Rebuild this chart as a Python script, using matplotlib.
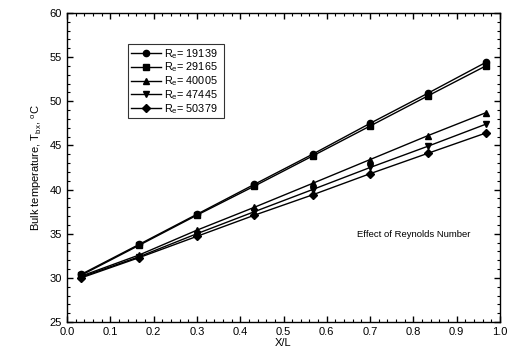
import matplotlib
matplotlib.use("Agg")
import matplotlib.pyplot as plt
from matplotlib.ticker import MultipleLocator

plt.rcParams['font.family'] = ['Liberation Sans', 'DejaVu Sans']
plt.rcParams['mathtext.fontset'] = 'custom'
plt.rcParams['mathtext.rm'] = 'Liberation Sans'
plt.rcParams['mathtext.it'] = 'Liberation Sans'

x = [0.033, 0.167, 0.300, 0.433, 0.567, 0.700, 0.833, 0.967]
re_labels = ["19139", "29165", "40005", "47445", "50379"]
t_19139 = [30.4, 33.8, 37.2, 40.6, 44.0, 47.5, 50.9, 54.4]
t_29165 = [30.3, 33.7, 37.1, 40.4, 43.8, 47.2, 50.6, 54.0]
t_40005 = [30.2, 32.6, 35.4, 38.0, 40.7, 43.4, 46.1, 48.7]
t_47445 = [30.1, 32.4, 35.0, 37.5, 40.0, 42.5, 44.9, 47.4]
t_50379 = [30.0, 32.3, 34.7, 37.1, 39.4, 41.8, 44.1, 46.4]
series = [t_19139, t_29165, t_40005, t_47445, t_50379]
markers = ['o', 's', '^', 'v', 'D']
msizes = [4.5, 4.5, 5, 5, 4]

fig = plt.figure(figsize=(5.14, 3.62), dpi=100)
ax = fig.add_axes([67/514, 1 - 322/362, 433/514, 309/362])

for ys, lab, m, ms in zip(series, re_labels, markers, msizes):
    ax.plot(x, ys, color='black', marker=m, markersize=ms, linewidth=1.0,
            label=r"R$_\mathrm{e}$= " + lab + "  ")

ax.set_xlim(0.0, 1.0)
ax.set_ylim(25, 60)
ax.xaxis.set_major_locator(MultipleLocator(0.1))
ax.xaxis.set_minor_locator(MultipleLocator(0.02))
ax.yaxis.set_major_locator(MultipleLocator(5))
ax.yaxis.set_minor_locator(MultipleLocator(1))
ax.xaxis.set_major_formatter(matplotlib.ticker.FormatStrFormatter('%.1f'))
ax.tick_params(which='both', direction='in', top=True, right=True, labelsize=8)
ax.tick_params(which='major', length=4, width=1)
ax.tick_params(which='minor', length=2, width=0.8)
for s in ax.spines.values():
    s.set_linewidth(1.0)

ax.set_xlabel("X/L", fontsize=8, labelpad=1)
ax.set_ylabel(r"Bulk temperature, T$_\mathrm{bx}$, $^\mathrm{o}$C", fontsize=8)

leg = ax.legend(loc='upper left', bbox_to_anchor=(61/433, 1 - 31/309), fontsize=7.8,
                frameon=True, fancybox=False, edgecolor='black', borderpad=0.25,
                labelspacing=0.0, handlelength=2.8, handletextpad=0.3, borderaxespad=0)
leg.get_frame().set_linewidth(0.8)

ax.text(0.67, 34.6, "Effect of Reynolds Number", fontsize=6.8)

fig.savefig("out.png", dpi=100)
